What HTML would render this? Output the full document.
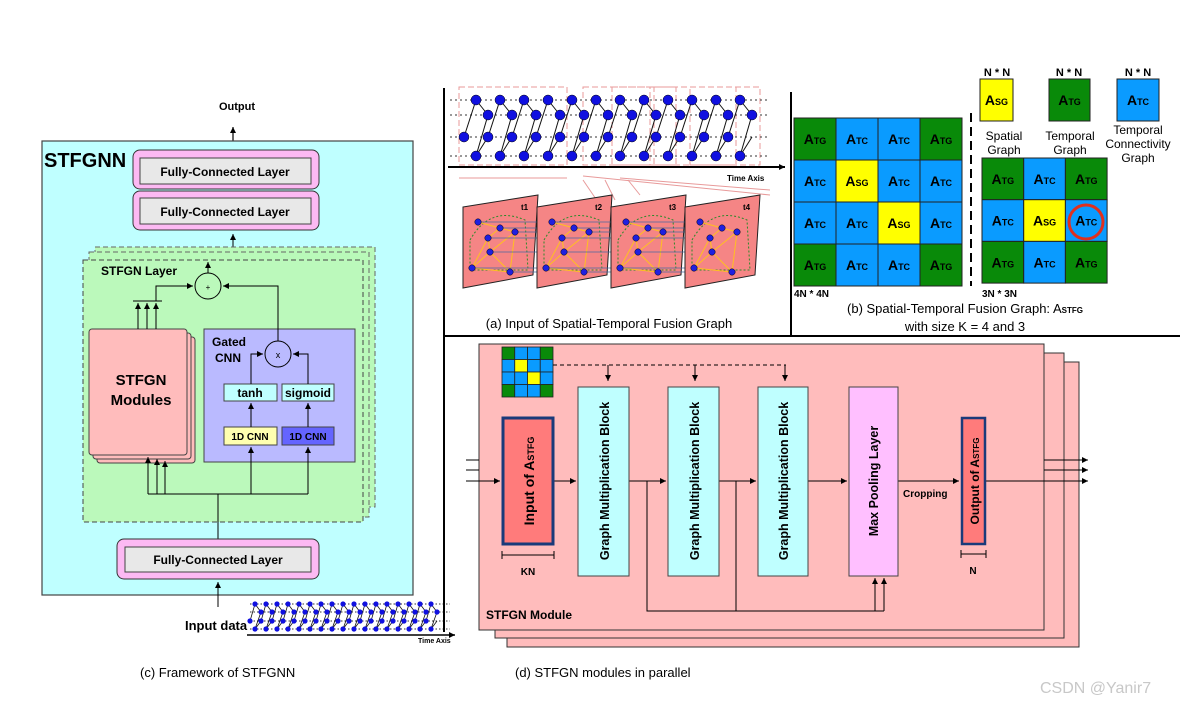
<!DOCTYPE html>
<html><head><meta charset="utf-8"><style>
html,body{margin:0;padding:0;background:#fff;}
svg{display:block;font-family:"Liberation Sans",Arial,sans-serif;}
.b{font-weight:bold;}
</style></head><body>
<svg id="s" width="1189" height="706" viewBox="0 0 1189 706" xmlns="http://www.w3.org/2000/svg">
<defs>
<marker id="ar" markerWidth="8" markerHeight="8" refX="6" refY="3" orient="auto" markerUnits="userSpaceOnUse"><path d="M0,0 L6,3 L0,6 Z" fill="#000"/></marker>
</defs>
<rect width="1189" height="706" fill="#fff"/>

<text x="237" y="110" text-anchor="middle" class="b" font-size="11">Output</text>
<line x1="233" y1="141" x2="233" y2="127" stroke="#000" stroke-width="1.2" marker-end="url(#ar)"/>
<rect x="42" y="141" width="371" height="454" fill="#bfffff" stroke="#444" stroke-width="1.2"/>
<text x="44" y="167" class="b" font-size="20">STFGNN</text>
<rect x="133" y="150" width="186" height="39" rx="7" fill="#fcb9f3" stroke="#333"/>
<rect x="140" y="158" width="171" height="26" fill="#e8e8e8" stroke="#444"/>
<text x="225" y="176" text-anchor="middle" class="b" font-size="12">Fully-Connected Layer</text>
<rect x="133" y="191" width="186" height="39" rx="7" fill="#fcb9f3" stroke="#333"/>
<rect x="140" y="198" width="171" height="26" fill="#e8e8e8" stroke="#444"/>
<text x="225" y="216" text-anchor="middle" class="b" font-size="12">Fully-Connected Layer</text>
<line x1="233" y1="247" x2="233" y2="234" stroke="#000" marker-end="url(#ar)"/>
<rect x="95" y="247" width="280" height="260" fill="#b9f9b9" stroke="#666" stroke-dasharray="5,3"/>
<rect x="89" y="252" width="280" height="265" fill="#b9f9b9" stroke="#666" stroke-dasharray="5,3"/>
<rect x="83" y="260" width="280" height="262" fill="#bbf9bb" stroke="#444" stroke-dasharray="5,3"/>
<text x="101" y="275" class="b" font-size="12">STFGN Layer</text>
<circle cx="208" cy="286" r="13" fill="none" stroke="#000"/>
<text x="208" y="290" text-anchor="middle" font-size="8">+</text>
<line x1="208" y1="273" x2="208" y2="262" stroke="#000" marker-end="url(#ar)"/>
<rect x="97" y="337" width="98" height="126" rx="3" fill="#ffbcbc" stroke="#444"/>
<rect x="93" y="333" width="98" height="126" rx="3" fill="#ffbcbc" stroke="#444"/>
<rect x="89" y="329" width="98" height="126" rx="3" fill="#ffbcbc" stroke="#444"/>
<text x="141" y="385" text-anchor="middle" class="b" font-size="15">STFGN</text>
<text x="141" y="405" text-anchor="middle" class="b" font-size="15">Modules</text>
<g stroke="#000" fill="none">
<line x1="133" y1="301" x2="162" y2="301"/>
<line x1="138" y1="329" x2="138" y2="303" marker-end="url(#ar)"/>
<line x1="147" y1="329" x2="147" y2="303" marker-end="url(#ar)"/>
<line x1="156" y1="329" x2="156" y2="303" marker-end="url(#ar)"/>
<polyline points="156,301 156,286 193,286" marker-end="url(#ar)"/>
</g>
<rect x="204" y="329" width="151" height="133" fill="#babaff" stroke="#444"/>
<text x="212" y="346" class="b" font-size="12">Gated</text>
<text x="215" y="362" class="b" font-size="12">CNN</text>
<circle cx="278" cy="354" r="13" fill="none" stroke="#000"/>
<text x="278" y="358" text-anchor="middle" font-size="9">x</text>
<rect x="224" y="384" width="53" height="17" fill="#bfffff" stroke="#444"/>
<text x="250" y="397" text-anchor="middle" class="b" font-size="12">tanh</text>
<rect x="282" y="384" width="52" height="17" fill="#bfffff" stroke="#444"/>
<text x="308" y="397" text-anchor="middle" class="b" font-size="12">sigmoid</text>
<rect x="224" y="427" width="53" height="18" fill="#ffffb0" stroke="#444"/>
<text x="250" y="440" text-anchor="middle" class="b" font-size="10">1D CNN</text>
<rect x="282" y="427" width="52" height="18" fill="#6464ff" stroke="#444"/>
<text x="308" y="440" text-anchor="middle" class="b" font-size="10">1D CNN</text>
<g stroke="#000" fill="none">
<polyline points="251,384 251,354 263,354" marker-end="url(#ar)"/>
<polyline points="308,384 308,354 293,354" marker-end="url(#ar)"/>
<polyline points="278,341 278,286 223,286" marker-end="url(#ar)"/>
<line x1="251" y1="427" x2="251" y2="403" marker-end="url(#ar)"/>
<line x1="308" y1="427" x2="308" y2="403" marker-end="url(#ar)"/>
<line x1="148" y1="494" x2="308" y2="494"/>
<line x1="148" y1="494" x2="148" y2="457" marker-end="url(#ar)"/>
<line x1="157" y1="494" x2="157" y2="459" marker-end="url(#ar)"/>
<line x1="165" y1="494" x2="165" y2="461" marker-end="url(#ar)"/>
<line x1="251" y1="494" x2="251" y2="447" marker-end="url(#ar)"/>
<line x1="308" y1="494" x2="308" y2="447" marker-end="url(#ar)"/>
<line x1="218" y1="539" x2="218" y2="494"/>
<line x1="218" y1="607" x2="218" y2="582" marker-end="url(#ar)"/>
</g>
<rect x="117" y="539" width="202" height="40" rx="7" fill="#fcb9f3" stroke="#333"/>
<rect x="125" y="547" width="186" height="25" fill="#e8e8e8" stroke="#444"/>
<text x="218" y="564" text-anchor="middle" class="b" font-size="12">Fully-Connected Layer</text>
<text x="185" y="630" class="b" font-size="13">Input data</text>
<g id="mini"></g>
<line x1="247" y1="635" x2="455" y2="635" stroke="#000" stroke-width="1.5" marker-end="url(#ar)"/>
<text x="418" y="643" class="b" font-size="7">Time Axis</text>
<text x="140" y="677" font-size="13">(c) Framework of STFGNN</text>

<line x1="444" y1="88" x2="444" y2="632" stroke="#000" stroke-width="2"/>
<line x1="444" y1="336" x2="1180" y2="336" stroke="#000" stroke-width="2"/>
<line x1="791" y1="92" x2="791" y2="336" stroke="#000" stroke-width="2"/>

<g fill="none" stroke="#e89a9a" stroke-dasharray="6,3">
<rect x="459" y="87" width="108" height="78"/>
<rect x="583" y="87" width="67" height="78"/>
<rect x="612" y="87" width="64" height="78"/>
<rect x="654" y="87" width="82" height="78"/>
<rect x="690" y="87" width="70" height="78"/>
</g>
<g id="topg"></g>
<line x1="448" y1="167" x2="785" y2="167" stroke="#000" stroke-width="2" marker-end="url(#ar)"/>
<text x="727" y="181" class="b" font-size="8">Time Axis</text>
<g stroke="#e89a9a" stroke-width="1">
<line x1="459" y1="178" x2="567" y2="178"/>
<line x1="583" y1="176" x2="770" y2="195"/>
<line x1="620" y1="178" x2="770" y2="190"/>
<line x1="583" y1="180" x2="600" y2="205"/>
<line x1="605" y1="180" x2="615" y2="200"/>
<line x1="628" y1="180" x2="640" y2="195"/>
</g>
<g id="paras"></g>
<text x="609" y="328" text-anchor="middle" font-size="13">(a) Input of Spatial-Temporal Fusion Graph</text>

<g id="grids"></g>
<line x1="971" y1="113" x2="971" y2="286" stroke="#000" stroke-width="2" stroke-dasharray="9,5"/>
<circle cx="1086" cy="222" r="17" fill="none" stroke="#e0301e" stroke-width="3"/>
<text x="997" y="76" text-anchor="middle" class="b" font-size="11">N * N</text>
<text x="1069" y="76" text-anchor="middle" class="b" font-size="11">N * N</text>
<text x="1138" y="76" text-anchor="middle" class="b" font-size="11">N * N</text>
<g font-size="12" text-anchor="middle">
<text x="1004" y="140">Spatial</text><text x="1004" y="154">Graph</text>
<text x="1070" y="140">Temporal</text><text x="1070" y="154">Graph</text>
<text x="1138" y="134">Temporal</text><text x="1138" y="148">Connectivity</text><text x="1138" y="162">Graph</text>
</g>
<text x="794" y="297" class="b" font-size="10">4N * 4N</text>
<text x="982" y="297" class="b" font-size="10">3N * 3N</text>
<text x="965" y="313" text-anchor="middle" font-size="13">(b) Spatial-Temporal Fusion Graph: A<tspan font-size="8" class="b">STFG</tspan></text>
<text x="965" y="331" text-anchor="middle" font-size="13">with size K = 4 and 3</text>

<rect x="507" y="362" width="572" height="285" fill="#ffbcbc" stroke="#333"/>
<rect x="495" y="353" width="569" height="285" fill="#ffbcbc" stroke="#333"/>
<rect x="479" y="344" width="565" height="286" fill="#ffbcbc" stroke="#333"/>
<g id="smallgrid"></g>
<g stroke="#000" fill="none">
<line x1="553" y1="365" x2="786" y2="365" stroke-dasharray="4,3"/>
<line x1="608" y1="365" x2="608" y2="381" marker-end="url(#ar)"/>
<line x1="695" y1="365" x2="695" y2="381" marker-end="url(#ar)"/>
<line x1="785" y1="365" x2="785" y2="381" marker-end="url(#ar)"/>
<line x1="466" y1="460" x2="479" y2="460"/>
<line x1="466" y1="470" x2="479" y2="470"/>
<line x1="466" y1="481" x2="500" y2="481" marker-end="url(#ar)"/>
<line x1="554" y1="481" x2="576" y2="481" marker-end="url(#ar)"/>
<line x1="629" y1="481" x2="666" y2="481" marker-end="url(#ar)"/>
<line x1="719" y1="481" x2="756" y2="481" marker-end="url(#ar)"/>
<line x1="808" y1="481" x2="847" y2="481" marker-end="url(#ar)"/>
<line x1="898" y1="481" x2="959" y2="481" marker-end="url(#ar)"/>
<polyline points="647,481 647,611 884,611"/>
<line x1="736" y1="481" x2="736" y2="611"/>
<line x1="875" y1="611" x2="875" y2="578" marker-end="url(#ar)"/>
<line x1="884" y1="611" x2="884" y2="578" marker-end="url(#ar)"/>
<line x1="1044" y1="460" x2="1088" y2="460" marker-end="url(#ar)"/>
<line x1="1044" y1="470" x2="1088" y2="470" marker-end="url(#ar)"/>
<line x1="986" y1="481" x2="1088" y2="481" marker-end="url(#ar)"/>
<line x1="502" y1="555" x2="554" y2="555"/><line x1="502" y1="551" x2="502" y2="559"/><line x1="554" y1="551" x2="554" y2="559"/>
<line x1="961" y1="554" x2="986" y2="554"/><line x1="961" y1="550" x2="961" y2="558"/><line x1="986" y1="550" x2="986" y2="558"/>
</g>
<rect x="503" y="418" width="50" height="126" fill="#ff7b7b" stroke="#1a3a7a" stroke-width="3"/>
<text transform="translate(534,481) rotate(-90)" text-anchor="middle" class="b" font-size="14">Input of A<tspan font-size="9">STFG</tspan></text>
<rect x="578" y="387" width="51" height="189" fill="#bfffff" stroke="#444"/>
<text transform="translate(609,481) rotate(-90)" text-anchor="middle" class="b" font-size="12.5">Graph Multiplication Block</text>
<rect x="668" y="387" width="51" height="189" fill="#bfffff" stroke="#444"/>
<text transform="translate(699,481) rotate(-90)" text-anchor="middle" class="b" font-size="12.5">Graph Multiplication Block</text>
<rect x="758" y="387" width="50" height="189" fill="#bfffff" stroke="#444"/>
<text transform="translate(788,481) rotate(-90)" text-anchor="middle" class="b" font-size="12.5">Graph Multiplication Block</text>
<rect x="849" y="387" width="49" height="189" fill="#ffbfff" stroke="#444"/>
<text transform="translate(878,481) rotate(-90)" text-anchor="middle" class="b" font-size="12.5">Max Pooling Layer</text>
<rect x="962" y="418" width="23" height="126" fill="#ff7b7b" stroke="#1a3a7a" stroke-width="2.5"/>
<text transform="translate(979,481) rotate(-90)" text-anchor="middle" class="b" font-size="12">Output of A<tspan font-size="8">STFG</tspan></text>
<text x="903" y="497" class="b" font-size="10">Cropping</text>
<text x="528" y="575" text-anchor="middle" class="b" font-size="10">KN</text>
<text x="973" y="574" text-anchor="middle" class="b" font-size="10">N</text>
<text x="486" y="619" class="b" font-size="12">STFGN Module</text>
<text x="515" y="677" font-size="13">(d) STFGN modules in parallel</text>
<text x="1040" y="693" font-size="16" fill="#c8c8c8">CSDN @Yanir7</text>
</svg>
<script>
var NS="http://www.w3.org/2000/svg";
function el(p,t,a,txt){var e=document.createElementNS(NS,t);for(var k in a)e.setAttribute(k,a[k]);if(txt!=null)e.textContent=txt;document.getElementById(p).appendChild(e);return e;}
var G="#098a09",B="#0a9bff",Y="#ffff00";
function cell(x,y,w,h,col,sub){el("grids","rect",{x:x,y:y,width:w,height:h,fill:col,stroke:"#222","stroke-width":1});
 var t=el("grids","text",{x:x+w/2,y:y+h/2+5,"text-anchor":"middle","font-weight":"bold","font-size":14});
 var a=document.createElementNS(NS,"tspan");a.textContent="A";t.appendChild(a);
 var b=document.createElementNS(NS,"tspan");b.setAttribute("font-size","9");b.textContent=sub;t.appendChild(b);}
var m4=[["G","C","C","G"],["C","S","C","C"],["C","C","S","C"],["G","C","C","G"]];
var cm={G:[G,"TG"],C:[B,"TC"],S:[Y,"SG"]};
for(var r=0;r<4;r++)for(var c=0;c<4;c++){var v=cm[m4[r][c]];cell(794+c*42,118+r*42,42,42,v[0],v[1]);}
var m3=[["G","C","G"],["C","S","C"],["G","C","G"]];
for(r=0;r<3;r++)for(c=0;c<3;c++){v=cm[m3[r][c]];cell(982+c*41.7,158+r*41.7,41.7,41.7,v[0],v[1]);}
cell(980,79,33,42,Y,"SG");cell(1049,79,41,42,G,"TG");cell(1117,79,42,42,B,"TC");
for(r=0;r<4;r++)for(c=0;c<4;c++){v=cm[m4[r][c]];el("smallgrid","rect",{x:502+c*12.75,y:347+r*12.5,width:12.75,height:12.5,fill:v[0],stroke:"#222","stroke-width":0.8});}
var ry=[100,115,137,156],ox=[476,488,464,476];
for(r=0;r<4;r++)el("topg","line",{x1:450,y1:ry[r],x2:770,y2:ry[r],stroke:"#333","stroke-dasharray":"2,3"});
for(var i=0;i<12;i++){var p=function(r,i){return [ox[r]+i*24,ry[r]];};
 var a1=p(0,i),a2=p(1,i),a3=p(2,i+1),a4=p(3,i);
 [[a1,a2],[a2,a4],[a3,a4],[p(2,i),a1]].forEach(function(q){el("topg","line",{x1:q[0][0],y1:q[0][1],x2:q[1][0],y2:q[1][1],stroke:"#111","stroke-width":1});});}
for(i=0;i<12;i++)for(r=0;r<4;r++)el("topg","circle",{cx:ox[r]+i*24,cy:ry[r],r:5,fill:"#1010e0",stroke:"#000","stroke-width":0.5});
for(var k=0;k<4;k++){var dx=k*74;
 el("paras","polygon",{points:(463+dx)+",207 "+(538+dx)+",195 "+(533+dx)+",275 "+(463+dx)+",288",fill:"#f58585",stroke:"#222"});
 el("paras","path",{d:"M"+(470+dx)+",240 Q"+(490+dx)+",205 "+(525+dx)+",220 L"+(528+dx)+",270 L"+(470+dx)+",270 Z",fill:"none",stroke:"#2a8a2a","stroke-dasharray":"2,2"});
 var pts=[[478+dx,222],[500+dx,228],[488+dx,238],[515+dx,232],[490+dx,252],[472+dx,268],[510+dx,272]];
 [[0,1],[1,2],[2,4],[4,5],[5,6],[4,6],[1,3],[3,4],[2,5],[3,6]].forEach(function(e){el("paras","line",{x1:pts[e[0]][0],y1:pts[e[0]][1],x2:pts[e[1]][0],y2:pts[e[1]][1],stroke:"#ffc020","stroke-width":1});});
 el("paras","text",{x:521+dx,y:210,"font-size":8,"font-weight":"bold"},"t"+(k+1));
 if(k<3)[0,1,2,3,4,5,6].forEach(function(j){el("paras","line",{x1:pts[j][0],y1:pts[j][1],x2:pts[j][0]+74,y2:pts[j][1],stroke:"#4a6aa0","stroke-width":0.8});});
 pts.forEach(function(q){el("paras","circle",{cx:q[0],cy:q[1],r:3.2,fill:"#2020e0",stroke:"#000","stroke-width":0.5});});}
var my=[604,612,621,629],mo=[255,261,250,255];
for(r=0;r<4;r++)el("mini","line",{x1:250,y1:my[r],x2:450,y2:my[r],stroke:"#333","stroke-dasharray":"1.5,2"});
for(i=0;i<17;i++){var f=function(r,i){return [mo[r]+i*11,my[r]];};
 [[f(0,i),f(1,i)],[f(1,i),f(3,i)],[f(2,i+1),f(3,i)],[f(2,i),f(0,i)]].forEach(function(q){el("mini","line",{x1:q[0][0],y1:q[0][1],x2:q[1][0],y2:q[1][1],stroke:"#111","stroke-width":0.8});});}
for(i=0;i<17;i++)for(r=0;r<4;r++)el("mini","circle",{cx:mo[r]+i*11,cy:my[r],r:2.6,fill:"#1010e0"});
</script>
</body></html>
